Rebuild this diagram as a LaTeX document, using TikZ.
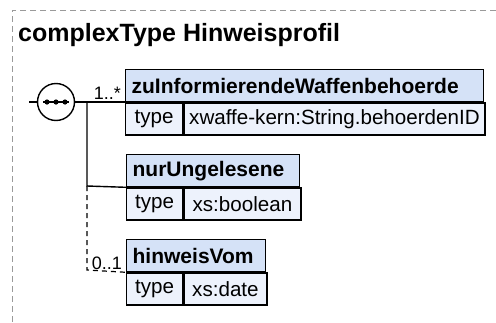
\documentclass[tikz,border=0pt]{standalone}
\usepackage{fontspec}
\setmainfont{Liberation Sans}
\usetikzlibrary{positioning}

\definecolor{hdrblue}{HTML}{D5E2F7}
\definecolor{rowblue}{HTML}{EDF2FC}
\definecolor{framegray}{HTML}{9A9A9A}

\tikzset{
  elhead/.style={draw, line width=1.3pt, fill=hdrblue, anchor=north west,
    minimum height=32pt, inner xsep=6pt, inner ysep=0pt,
    font=\fontsize{21}{23}\selectfont\bfseries},
  eltype/.style={draw, line width=1.3pt, fill=rowblue, anchor=north west,
    minimum height=32pt, inner xsep=5pt, inner ysep=0pt,
    font=\fontsize{20.6}{22}\selectfont},
  conn/.style={line width=1.4pt},
  optconn/.style={line width=1.2pt, dash pattern=on 5pt off 4pt},
  card/.style={font=\fontsize{18}{20}\selectfont, inner sep=1pt, anchor=base east}
}

\begin{document}
\begin{tikzpicture}[x=1pt, y=-1pt]
\useasboundingbox (0,0) rectangle (496,322);

% frame and title
\draw[framegray, line width=1pt, dash pattern=on 6pt off 4pt] (496,10) -- (12,10) -- (12,322);
\node[anchor=base west, inner sep=0pt, font=\fontsize{25}{27}\selectfont\bfseries] (title) at (18,41) {complexType Hinweisprofil};

% sequence compositor
\node[draw, circle, line width=1.4pt, fill=white, minimum size=37pt, inner sep=0pt] (seq) at (56,102) {};
\foreach \dx in {-9,0,9}
  \fill (56+\dx,102) circle (2.6pt);
\draw[line width=1.4pt] (43,102) -- (69,102);
\coordinate (in) at (29,102);
\coordinate (br) at (87,102);
\coordinate (brB) at (87,186);
\coordinate (brC) at (87,270);

% zuInformierendeWaffenbehoerde
\node[elhead, minimum width=358pt, text width=346pt] (zHead) at (125,69) {zuInformierendeWaffenbehoerde};
\node[eltype, minimum width=57pt] (zType) at (zHead.south west) {type};
\node[eltype, minimum width=301pt] (zVal) at (zType.north east) {xwaffe-kern:String.behoerdenID};

% nurUngelesene
\node[elhead, minimum width=173pt, text width=161pt] (nHead) at (126,154) {nurUngelesene};
\node[eltype, minimum width=56pt] (nType) at (nHead.south west) {type};
\node[eltype, minimum width=117pt] (nVal) at (nType.north east) {xs:boolean};

% hinweisVom
\node[elhead, minimum width=139pt, text width=127pt] (hHead) at (126,239) {hinweisVom};
\node[eltype, minimum width=56pt] (hType) at (hHead.south west) {type};
\node[eltype, minimum width=83pt] (hVal) at (hType.north east) {xs:date};

% connectors
\draw[conn] (in) -- (seq.west);
\draw[conn] (seq.east) -- (zHead.south west |- seq.east);
\draw[conn] (br) -- (brB) -- (nHead.south west);
\draw[optconn] (brB) -- (brC) -- (hHead.south west);

\node[card] (cZ) at (122,99) {1..*};
\node[card] (cH) at (123,269) {0..1};
\end{tikzpicture}
\end{document}
